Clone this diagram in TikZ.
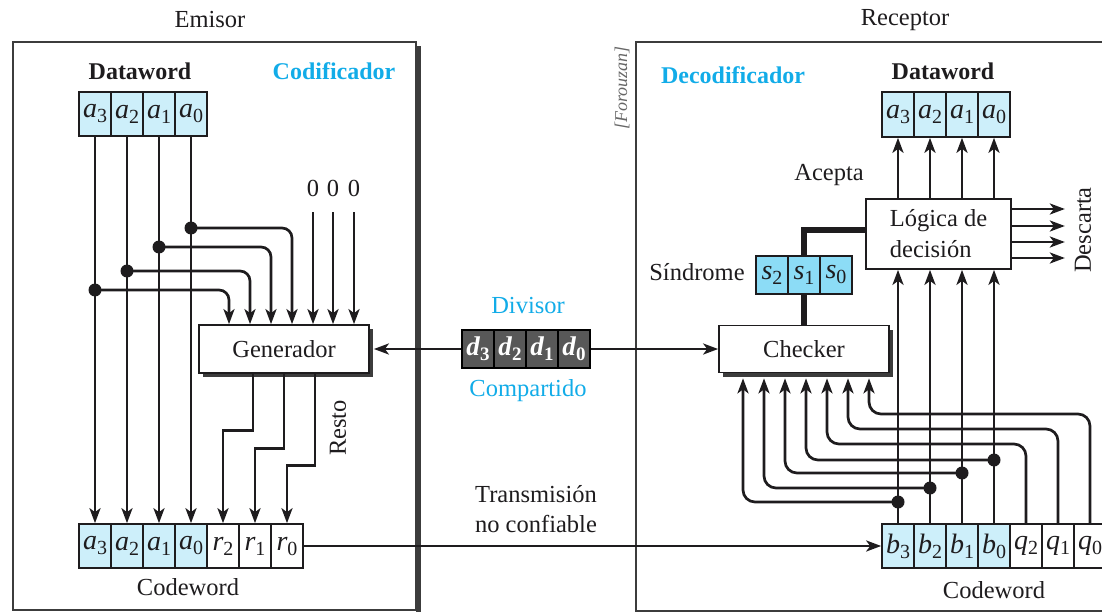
\documentclass[tikz,border=0pt]{standalone}
\usepackage{fontspec}
\setmainfont{Liberation Serif}
\usetikzlibrary{arrows.meta,shadows,calc}

\definecolor{cellcyan}{RGB}{205,239,250}
\definecolor{syncyan}{RGB}{140,220,246}
\definecolor{titlecyan}{RGB}{18,172,232}
\definecolor{divgray}{RGB}{88,88,88}
\definecolor{boxgray}{RGB}{60,60,60}
\definecolor{inkk}{RGB}{30,28,30}

\newcommand\bitv[2]{\fontsize{28}{28}\selectfont\textit{#1}\raisebox{-5pt}{\fontsize{20}{20}\selectfont #2}}
\newcommand\bitd[2]{\fontsize{27}{27}\selectfont\bfseries\textit{#1}\raisebox{-5pt}{\fontsize{19}{19}\selectfont\bfseries #2}}

\tikzset{
  lbl/.style={inner sep=0pt, font=\fontsize{24.5}{30}\selectfont, text=inkk},
  blbl/.style={inner sep=0pt, font=\fontsize{24}{30}\selectfont\bfseries, text=inkk},
  frame/.style={draw=boxgray, line width=1.5pt},
  ln/.style={line width=2.7pt, draw=inkk},
  arr/.style={ln, -{Stealth[length=15pt,width=11pt,inset=4pt]}},
  cell/.style={draw=inkk, line width=1.6pt, minimum width=32pt, minimum height=44pt, inner sep=0pt, text=inkk},
  blk/.style={draw=inkk, line width=1.7pt, fill=white, inner sep=0pt, text=inkk, font=\fontsize{24.5}{31}\selectfont},
  shd/.style={drop shadow={shadow xshift=4pt, shadow yshift=-4pt, fill=boxgray, opacity=1}},
  dot/.style={fill=inkk},
}

\begin{document}
\begin{tikzpicture}[x=1pt,y=-1pt]
\useasboundingbox (0,0) rectangle (1102,612);

% frames
\fill[boxgray] (416,46) rectangle (421,612);
\draw[frame] (13,42) rectangle (416,610);
\draw[frame] (1106,42) -- (636,42) -- (636,611) -- (1106,611);

% titles
\node[lbl] (emisor) at (210,20) {Emisor};
\node[lbl] (receptor) at (905,20) {Receptor};
\node[blbl] (dwl) at (140,71) {Dataword};
\node[blbl, text=titlecyan] (codif) at (334,71) {Codificador};
\node[blbl] (dwr) at (943,71) {Dataword};
\node[blbl, text=titlecyan] (decod) at (733,75) {Decodificador};
\node[lbl] (cwl) at (188,587) {Codeword};
\node[lbl] (cwr) at (994,590) {Codeword};
\node[rotate=90, inner sep=0pt, font=\fontsize{18}{18}\selectfont\itshape, text=black!60] (forouzan) at (622,88) {[Forouzan]};

% left dataword and codeword
\foreach \i/\x in {3/95,2/127,1/159,0/191} {
  \node[cell, fill=cellcyan] (la\i) at (\x,114) {\bitv{a}{\i}};
  \node[cell, fill=cellcyan] (lc\i) at (\x,546) {\bitv{a}{\i}};
}
\foreach \i/\x in {2/223,1/255,0/287}
  \node[cell, fill=white] (lr\i) at (\x,546) {\bitv{r}{\i}};

% Generador
\node[blk, shd, minimum width=170pt, minimum height=48pt] (gen) at (284,349) {Generador};

\foreach \i in {3,2,1,0}
  \draw[arr] (la\i.south) -- (lc\i.north);

\foreach \i/\x/\y/\dx in {0/191/228/8, 1/159/247/-13, 2/127/271/-34, 3/95/290/-55} {
  \coordinate (ja\i) at (\x,\y);
  \draw[arr, rounded corners=10pt] (ja\i) -| ([xshift=\dx pt]gen.north);
  \fill[dot] (ja\i) circle (6.5pt);
}

\foreach \n/\x in {2/313,1/333,0/354} {
  \node[lbl] (z\n) at (\x,188) {0};
  \draw[arr] ([yshift=-16pt]z\n.south) -- (gen.north -| z\n);
}

\draw[arr] ([xshift=-31pt]gen.south) |- ($(lr2.north)+(0,-93)$) -- (lr2.north);
\draw[arr] (gen.south) |- ($(lr1.north)+(0,-75)$) -- (lr1.north);
\draw[arr] ([xshift=31pt]gen.south) |- ($(lr0.north)+(0,-58)$) -- (lr0.north);
\node[lbl, rotate=90] (resto) at (338,428) {Resto};

% divisor
\foreach \i/\x in {3/478,2/510,1/542,0/574}
  \node[cell, fill=divgray, text=white, minimum height=38pt, draw=black] (d\i) at (\x,349) {\bitd{d}{\i}};
\node[lbl, text=titlecyan] (divisor) at (528,306) {Divisor};
\node[lbl, text=titlecyan] (compartido) at (528,391) {Compartido};
\node[lbl, align=center] (trans) at (536,509) {Transmisión\\no confiable};

% right side
\foreach \i/\x in {3/898,2/930,1/962,0/994} {
  \node[cell, fill=cellcyan, minimum height=45pt] (ra\i) at (\x,114.5) {\bitv{a}{\i}};
  \node[cell, fill=cellcyan] (rb\i) at (\x,546) {\bitv{b}{\i}};
}
\foreach \i/\x in {2/1026,1/1058,0/1090}
  \node[cell, fill=white] (rq\i) at (\x,546) {\bitv{q}{\i}};

\node[blk, shd, minimum width=170pt, minimum height=47pt] (chk) at (804,349) {Checker};
\node[blk, minimum width=145pt, minimum height=70pt, align=left] (logic) at (938.5,234) {Lógica de\\decisión};

\foreach \i/\x in {2/772,1/804,0/836}
  \node[cell, fill=syncyan, minimum height=38pt] (s\i) at (\x,275) {\bitv{s}{\i}};
\node[lbl] (sindrome) at (697,272) {Síndrome};
\node[lbl] (acepta) at (829,175) {Acepta};
\node[lbl, rotate=90] (descarta) at (1083,230) {Descarta};

\draw[line width=6pt, draw=inkk] (s1.north) |- ([yshift=4pt]logic.west);
\draw[line width=6pt, draw=inkk] (s1.south) -- (chk.north);

\foreach \i in {3,2,1,0} {
  \draw[arr] (ra\i.south |- logic.north) -- (ra\i.south);
  \draw[arr] (rb\i.north) -- (rb\i.north |- logic.south);
}
\foreach \s in {25,8,-8,-24}
  \draw[arr] ([yshift=\s pt]logic.east) -- ++(53,0);

\draw[arr] (d3.west) -- ([xshift=4pt]gen.east);
\draw[arr] (d0.east) -- (chk.west);
\draw[arr] (lr0.east) -- (rb3.west);

\foreach \i/\x/\y/\dx in {3/898/502/-61, 2/930/488/-40, 1/962/473/-19, 0/994/460/2} {
  \coordinate (jb\i) at (\x,\y);
  \draw[arr, rounded corners=12pt] (jb\i) -| ([xshift=\dx pt,yshift=-5pt]chk.south);
  \fill[dot] (jb\i) circle (6.5pt);
}
\foreach \i/\y/\cx/\dx in {2/444/827/23, 1/429/848/44, 0/414/869/65}
  \draw[arr, rounded corners=12pt] (rq\i.north) |- (\cx,\y) -- ([xshift=\dx pt,yshift=-5pt]chk.south);

\end{tikzpicture}
\end{document}
